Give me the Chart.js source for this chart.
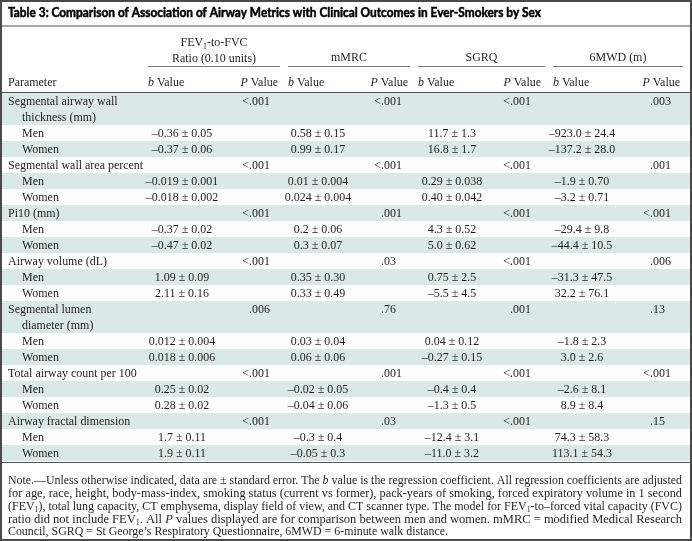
<!DOCTYPE html>
<html>
<head>
<meta charset="utf-8">
<script src="https://cdn.jsdelivr.net/npm/chart.js@4.4.0/dist/chart.umd.min.js"></script>
<style>
html, body { margin: 0; padding: 0; background: #fff; }
#wrap { width: 692px; height: 541px; position: relative; }
</style>
</head>
<body>
<div id="wrap"><canvas id="table3"></canvas></div>
<script>
// table 3 - airway metrics vs clinical outcomes, by sex
// *x* = italic, ~x~ = subscript

var title = "Table 3: Comparison of Association of Airway Metrics with Clinical Outcomes in Ever-Smokers by Sex";
var parameters = [
  ["Segmental airway wall", "thickness (mm)"],
  ["Segmental wall area percent"],
  ["Pi10 (mm)"],
  ["Airway volume (dL)"],
  ["Segmental lumen", "diameter (mm)"],
  ["Total airway count per 100"],
  ["Airway fractal dimension"]
];
var sexes = ["Men", "Women"];
var outcomes = [["FEV~1~-to-FVC", "Ratio (0.10 units)"], ["mMRC"], ["SGRQ"], ["6MWD (m)"]];
var subHeads = ["*b* Value", "*P* Value"];

var fevP  = ["<.001", "<.001", "<.001", "<.001", ".006", "<.001", "<.001"];
var mmrcP = ["<.001", "<.001", ".001", ".03", ".76", ".001", ".03"];
var sgrqP = ["<.001", "<.001", "<.001", "<.001", ".001", "<.001", "<.001"];
var walkP = [".003", ".001", "<.001", ".006", ".13", "<.001", ".15"];

var fevMen    = ["–0.36 ± 0.05", "–0.019 ± 0.001", "–0.37 ± 0.02", "1.09 ± 0.09", "0.012 ± 0.004", "0.25 ± 0.02", "1.7 ± 0.11"];
var fevWomen  = ["–0.37 ± 0.06", "–0.018 ± 0.002", "–0.47 ± 0.02", "2.11 ± 0.16", "0.018 ± 0.006", "0.28 ± 0.02", "1.9 ± 0.11"];
var mmrcMen   = ["0.58 ± 0.15", "0.01 ± 0.004", "0.2 ± 0.06", "0.35 ± 0.30", "0.03 ± 0.04", "–0.02 ± 0.05", "–0.3 ± 0.4"];
var mmrcWomen = ["0.99 ± 0.17", "0.024 ± 0.004", "0.3 ± 0.07", "0.33 ± 0.49", "0.06 ± 0.06", "–0.04 ± 0.06", "–0.05 ± 0.3"];
var sgrqMen   = ["11.7 ± 1.3", "0.29 ± 0.038", "4.3 ± 0.52", "0.75 ± 2.5", "0.04 ± 0.12", "–0.4 ± 0.4", "–12.4 ± 3.1"];
var sgrqWomen = ["16.8 ± 1.7", "0.40 ± 0.042", "5.0 ± 0.62", "–5.5 ± 4.5", "–0.27 ± 0.15", "–1.3 ± 0.5", "–11.0 ± 3.2"];
var walkMen   = ["–923.0 ± 24.4", "–1.9 ± 0.70", "–29.4 ± 9.8", "–31.3 ± 47.5", "–1.8 ± 2.3", "–2.6 ± 8.1", "74.3 ± 58.3"];
var walkWomen = ["–137.2 ± 28.0", "–3.2 ± 0.71", "–44.4 ± 10.5", "32.2 ± 76.1", "3.0 ± 2.6", "8.9 ± 8.4", "113.1 ± 54.3"];

var notes = [
  "Note.—Unless otherwise indicated, data are ± standard error. The *b* value is the regression coefficient. All regression coefficients are adjusted",
  "for age, race, height, body-mass-index, smoking status (current vs former), pack-years of smoking, forced expiratory volume in 1 second",
  "(FEV~1~), total lung capacity, CT emphysema, display field of view, and CT scanner type. The model for FEV~1~-to–forced vital capacity (FVC)",
  "ratio did not include FEV~1~. All *P* values displayed are for comparison between men and women. mMRC = modified Medical Research",
  "Council, SGRQ = St George’s Respiratory Questionnaire, 6MWD = 6-minute walk distance."
];

var pCols = [fevP, mmrcP, sgrqP, walkP];
var menCols = [fevMen, mmrcMen, sgrqMen, walkMen];
var womenCols = [fevWomen, mmrcWomen, sgrqWomen, walkWomen];

// layout
var serif = '"Liberation Serif", "DejaVu Serif", serif';
var textSize = 13, squeeze = 0.92;
var groupLeft = [148, 288, 418, 553];
var groupRight = [280, 410, 545, 683];
var bCenter = [182, 318, 452, 582];
var pDot = [249, 381, 510, 650];
var pRight = [278, 408, 541, 680];
var lineH = 16, bodyTop = 93;
var shade = "#dbe8ea", ink = "#231f20";

function segments(str) {
  return str.split(/(\*[^*]+\*|~[^~]+~)/).filter(function (s) { return s.length; }).map(function (s) {
    if (s[0] == "*") return { t: s.slice(1, -1), st: "i" };
    if (s[0] == "~") return { t: s.slice(1, -1), st: "s" };
    return { t: s, st: "" };
  });
}

function segFont(st, size) {
  var sz = st == "s" ? size * 0.65 : size;
  return (st == "i" ? "italic " : "") + sz + "px " + serif;
}

function richWidth(ctx, str, size) {
  var w = 0;
  segments(str).forEach(function (g) { ctx.font = segFont(g.st, size); w += ctx.measureText(g.t).width; });
  return w;
}

// draw rich text at pixel x,y (middle), align l/c/r, horizontal scale sx
function drawRich(ctx, str, x, y, size, align, sx) {
  var w = richWidth(ctx, str, size) * sx;
  var x0 = align == "c" ? x - w / 2 : align == "r" ? x - w : x;
  ctx.save();
  ctx.translate(x0, y);
  ctx.scale(sx, 1);
  ctx.textBaseline = "alphabetic";
  ctx.textAlign = "left";
  var cx = 0;
  segments(str).forEach(function (g) {
    ctx.font = segFont(g.st, size);
    ctx.fillText(g.t, cx, g.st == "s" ? size * 0.5 : size * 0.33);
    cx += ctx.measureText(g.t).width;
  });
  ctx.restore();
}

function drawDecimal(ctx, str, x, y) {
  var i = str.indexOf(".");
  drawRich(ctx, str.slice(0, i), x, y, textSize, "r", squeeze);
  drawRich(ctx, str.slice(i), x, y, textSize, "l", squeeze);
}

var tablePlugin = {
  id: "tableDraw",
  afterDraw: function (chart) {
    var ctx = chart.ctx, sx = chart.scales.x, sy = chart.scales.y;
    var X = function (v) { return sx.getPixelForValue(v); };
    var Y = function (v) { return sy.getPixelForValue(v); };
    ctx.save();
    ctx.fillStyle = "#fff";
    ctx.fillRect(X(0), Y(0), X(692) - X(0), Y(541) - Y(0));

    // body rows: parameter line then men / women
    var rows = [];
    parameters.forEach(function (p, k) {
      rows.push({ kind: "param", k: k, lines: p.length });
      rows.push({ kind: "sex", k: k, s: 0, lines: 1 });
      rows.push({ kind: "sex", k: k, s: 1, lines: 1 });
    });
    var top = bodyTop;
    rows.forEach(function (r, i) {
      var h = r.lines * lineH;
      if (i % 2 == 0) {
        ctx.fillStyle = shade;
        ctx.fillRect(X(2), Y(top), X(690) - X(2), Y(top + h) - Y(top));
      }
      ctx.fillStyle = ink;
      var yc = top + lineH / 2;
      if (r.kind == "param") {
        parameters[r.k].forEach(function (t, j) {
          drawRich(ctx, t, X(j ? 22 : 8), Y(yc + j * lineH), textSize, "l", squeeze);
        });
        pCols.forEach(function (col, c) { drawDecimal(ctx, col[r.k], X(pDot[c]), Y(yc)); });
      } else {
        drawRich(ctx, sexes[r.s], X(22), Y(yc), textSize, "l", squeeze);
        var cols = r.s ? womenCols : menCols;
        cols.forEach(function (col, c) { drawRich(ctx, col[r.k], X(bCenter[c]), Y(yc), textSize, "c", squeeze); });
      }
      top += h;
    });
    var bodyBottom = top;

    // title (stroked a little to get a heavier weight)
    ctx.fillStyle = "#000";
    ctx.strokeStyle = "#000";
    ctx.font = "bold 13px Lato, 'DejaVu Sans', sans-serif";
    var natural = ctx.measureText(title).width;
    ctx.save();
    ctx.translate(X(8), Y(13));
    ctx.scale(533 / natural, 1);
    ctx.textBaseline = "middle";
    ctx.lineWidth = 0.5;
    ctx.fillText(title, 0, 0);
    ctx.strokeText(title, 0, 0);
    ctx.restore();

    ctx.fillStyle = ink;
    outcomes.forEach(function (o, c) {
      var cx = (groupLeft[c] + groupRight[c]) / 2;
      if (o.length == 2) {
        drawRich(ctx, o[0], X(cx), Y(42), textSize, "c", squeeze);
        drawRich(ctx, o[1], X(cx), Y(57.5), textSize, "c", squeeze);
      } else {
        drawRich(ctx, o[0], X(cx), Y(56.5), textSize, "c", squeeze);
      }
      drawRich(ctx, subHeads[0], X(groupLeft[c]), Y(82), textSize, "l", squeeze);
      drawRich(ctx, subHeads[1], X(pRight[c]), Y(82), textSize, "r", squeeze);
    });
    drawRich(ctx, "Parameter", X(8), Y(82), textSize, "l", squeeze);

    // rules
    ctx.strokeStyle = "#8c8c8c";
    ctx.lineWidth = 1.5;
    ctx.beginPath(); ctx.moveTo(X(2), Y(26)); ctx.lineTo(X(690), Y(26)); ctx.stroke();
    ctx.lineWidth = 1;
    ctx.strokeStyle = "#7a7a7a";
    groupLeft.forEach(function (l, c) {
      ctx.beginPath(); ctx.moveTo(X(l), Y(66.5)); ctx.lineTo(X(groupRight[c]), Y(66.5)); ctx.stroke();
    });
    ctx.strokeStyle = "#555";
    ctx.beginPath(); ctx.moveTo(X(2), Y(92.5)); ctx.lineTo(X(690), Y(92.5)); ctx.stroke();
    ctx.beginPath(); ctx.moveTo(X(2), Y(bodyBottom + 1.5)); ctx.lineTo(X(690), Y(bodyBottom + 1.5)); ctx.stroke();

    // notes, justified to the right margin except the last line
    ctx.fillStyle = ink;
    var noteSize = 12.5, scales = [];
    notes.forEach(function (n, i) {
      var w = richWidth(ctx, n, noteSize);
      var s = i < notes.length - 1 ? 674 / w : scales[0];
      scales.push(s);
      drawRich(ctx, n, X(8), Y(480 + i * 12.8), noteSize, "l", s);
    });

    // frame
    ctx.strokeStyle = "#4a4a4a";
    ctx.lineWidth = 2;
    ctx.strokeRect(X(1), Y(1), X(691) - X(1), Y(540) - Y(1));
    ctx.restore();
  }
};

new Chart(document.getElementById("table3"), {
  type: "scatter",
  data: { datasets: [{ data: [] }] },
  options: {
    responsive: true,
    maintainAspectRatio: false,
    animation: false,
    layout: { padding: 0 },
    plugins: { legend: { display: false }, tooltip: { enabled: false } },
    scales: {
      x: { type: "linear", min: 0, max: 692, display: false },
      y: { type: "linear", min: 0, max: 541, reverse: true, display: false }
    }
  },
  plugins: [tablePlugin]
});
</script>
</body>
</html>
